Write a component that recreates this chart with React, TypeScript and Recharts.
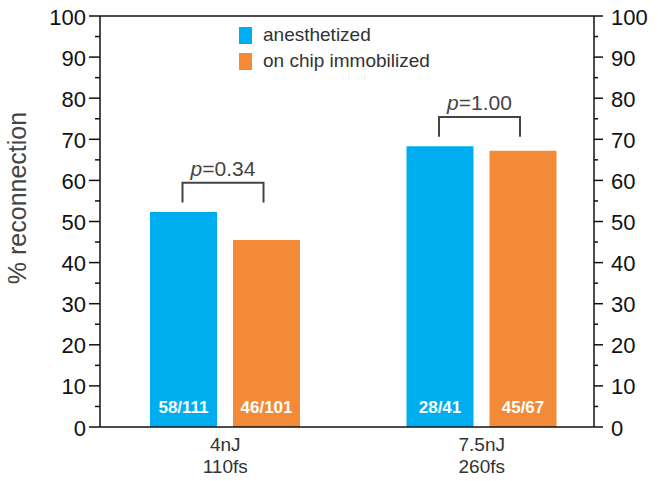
import { ComposedChart, Bar, Line, XAxis, YAxis, Legend, LabelList, ReferenceLine } from 'recharts';

const energies = ['4nJ', '7.5nJ'];
const durations = ['110fs', '260fs'];
const anesthetized = [52.3, 68.3];
const onChip = [45.5, 67.2];
const anesthetizedCounts = ['58/111', '28/41'];
const onChipCounts = ['46/101', '45/67'];
const pValues = ['0.34', '1.00'];
const yTicks = [0, 5, 10, 15, 20, 25, 30, 35, 40, 45, 50, 55, 60, 65, 70, 75, 80, 85, 90, 95, 100];

const data = energies.map((e, i) => ({
  energy: e,
  anesthetized: anesthetized[i],
  onChip: onChip[i],
}));

const FONT = '"Liberation Sans", Arial, Helvetica, sans-serif';
const BLUE = '#00AEEF';
const ORANGE = '#F28A38';
const BAR_SIZE = 67;
const BAR_GAP = 16;

const LeftTick = (props: any) => {
  const { x, y, payload } = props;
  const major = payload.value % 10 === 0;
  return (
    <g>
      <line x1={x - (major ? 11 : 5)} x2={x} y1={y} y2={y} stroke="#111" strokeWidth={1.5} />
      {major && (
        <text x={x - 14} y={y} dy={8.5} textAnchor="end" fontSize={22} fill="#111" fontFamily={FONT}>
          {payload.value}
        </text>
      )}
    </g>
  );
};

const RightTick = (props: any) => {
  const { x, y, payload } = props;
  const major = payload.value % 10 === 0;
  return (
    <g>
      <line x1={x} x2={x + (major ? 9 : 4)} y1={y} y2={y} stroke="#111" strokeWidth={1.5} />
      {major && (
        <text x={x + 17} y={y} dy={8.5} textAnchor="start" fontSize={22} fill="#111" fontFamily={FONT}>
          {payload.value}
        </text>
      )}
    </g>
  );
};

const XTick = (props: any) => {
  const { x, y, index } = props;
  return (
    <text x={x} y={y} textAnchor="middle" fontSize={19} fill="#333" fontFamily={FONT}>
      <tspan x={x} dy={24}>{energies[index]}</tspan>
      <tspan x={x} dy={22}>{durations[index]}</tspan>
    </text>
  );
};

const geom = (props: any) => {
  const vb = props.viewBox ?? {};
  return {
    x: props.x ?? vb.x,
    y: props.y ?? vb.y,
    width: props.width ?? vb.width,
    height: props.height ?? vb.height,
  };
};

const countLabel = (counts: string[]) => (props: any) => {
  const { x, y, width, height } = geom(props);
  return (
    <text
      x={x + width / 2}
      y={y + height - 14}
      textAnchor="middle"
      fontSize={17}
      fontWeight="bold"
      fill="#fff"
      fontFamily={FONT}
    >
      {counts[props.index]}
    </text>
  );
};

// bracket + p value, drawn from the blue bar's geometry
const Bracket = (props: any) => {
  const { x, y, width, height } = geom(props);
  const i = props.index;
  const val = anesthetized[i];
  const perUnit = height / val;
  const base = y + height;
  const yFor = (v: number) => base - v * perUnit;
  const top = Math.max(anesthetized[i], onChip[i]);
  const x1 = x + width / 2 - 1;
  const x2 = x + width + BAR_GAP + width / 2 - 3;
  const yb = yFor(top + 2.3);
  const yt = yFor(top + 7.1);
  return (
    <g>
      <path d={`M${x1},${yb} V${yt} H${x2} V${yb}`} fill="none" stroke="#444" strokeWidth={2} />
      <text x={(x1 + x2) / 2} y={yt - 7} textAnchor="middle" fontSize={21} fill="#444" fontFamily={FONT}>
        <tspan fontStyle="italic">p</tspan>={pValues[i]}
      </text>
    </g>
  );
};

const LegendBox = (props: any) => {
  const items = (props.payload ?? []).filter((it: any) => it.type !== 'none');
  return (
    <div style={{ fontFamily: FONT, fontSize: 19, color: '#333' }}>
      {items.map((it: any) => (
        <div key={it.value} style={{ display: 'flex', alignItems: 'center', height: 26 }}>
          <span style={{ display: 'inline-block', width: 13, height: 17, background: it.color, marginRight: 11 }} />
          <span>{it.value}</span>
        </div>
      ))}
    </div>
  );
};

export default function App() {
  return (
    <div style={{ position: 'absolute', left: 0, top: 0, background: '#fff' }}>
      <ComposedChart
        width={658}
        height={481}
        data={data}
        margin={{ top: 16, right: 0, bottom: 0, left: 0 }}
        barSize={BAR_SIZE}
        barGap={BAR_GAP}
      >
        <XAxis
          dataKey="energy"
          height={54}
          tickLine={false}
          tickSize={0}
          tickMargin={0}
          tick={<XTick />}
          axisLine={{ stroke: '#111', strokeWidth: 1.5 }}
          padding={{ left: -3, right: -16 }}
        />
        <YAxis
          yAxisId="left"
          orientation="left"
          width={100}
          domain={[0, 100]}
          ticks={yTicks}
          interval={0}
          tickLine={false}
          tickSize={0}
          tickMargin={0}
          tick={<LeftTick />}
          axisLine={{ stroke: '#111', strokeWidth: 1.5 }}
          label={{
            value: '% reconnection',
            content: () => (
              <text
                transform="translate(26, 198) rotate(-90)"
                textAnchor="middle"
                fontSize={25}
                fill="#444"
                fontFamily={FONT}
              >
                % reconnection
              </text>
            ),
          }}
        />
        <YAxis
          yAxisId="right"
          orientation="right"
          width={64}
          domain={[0, 100]}
          ticks={yTicks}
          interval={0}
          tickLine={false}
          tickSize={0}
          tickMargin={0}
          tick={<RightTick />}
          axisLine={{ stroke: '#111', strokeWidth: 1.5 }}
        />
        <ReferenceLine yAxisId="left" y={100} stroke="#111" strokeWidth={1.5} />
        <Legend
          layout="horizontal"
          verticalAlign="middle"
          align="center"
          content={<LegendBox />}
          wrapperStyle={{ position: 'absolute', top: 22, left: 239, width: 'auto', height: 'auto' }}
        />
        <Bar yAxisId="left" dataKey="anesthetized" name="anesthetized" fill={BLUE} isAnimationActive={false}>
          <LabelList dataKey="anesthetized" content={countLabel(anesthetizedCounts)} />
          <LabelList dataKey="anesthetized" content={<Bracket />} />
        </Bar>
        <Bar yAxisId="left" dataKey="onChip" name="on chip immobilized" fill={ORANGE} isAnimationActive={false}>
          <LabelList dataKey="onChip" content={countLabel(onChipCounts)} />
        </Bar>
        {/* invisible series so the right axis gets its ticks */}
        <Line
          yAxisId="right"
          dataKey="onChip"
          stroke="none"
          dot={false}
          activeDot={false}
          legendType="none"
          isAnimationActive={false}
        />
      </ComposedChart>
    </div>
  );
}
